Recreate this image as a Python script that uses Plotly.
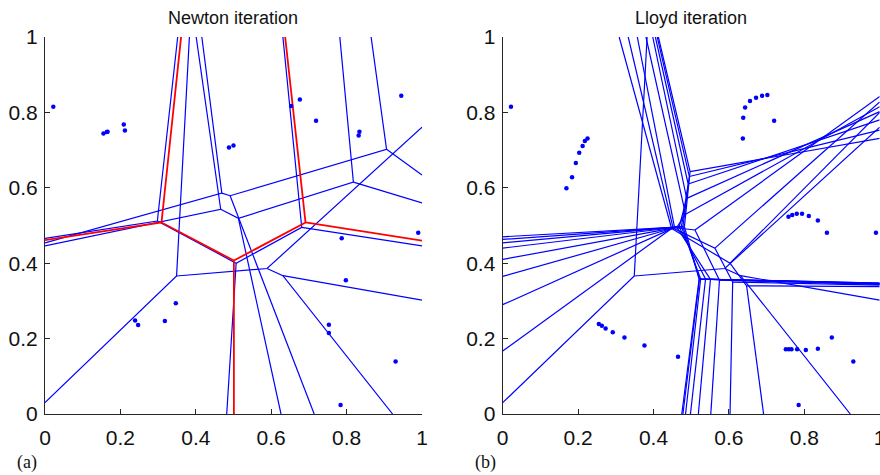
import plotly.graph_objects as go

# ---------------- data ----------------
newton_dot_x = [0.022, 0.155, 0.164, 0.166, 0.209, 0.212, 0.488, 0.500, 0.653, 0.676, 0.719, 0.834, 0.832,
                0.945, 0.990, 0.787, 0.798, 0.347, 0.239, 0.247, 0.318, 0.753, 0.753, 0.930, 0.784]
newton_dot_y = [0.815, 0.744, 0.748, 0.749, 0.768, 0.752, 0.707, 0.712, 0.817, 0.834, 0.778, 0.749, 0.739,
                0.844, 0.481, 0.466, 0.355, 0.294, 0.248, 0.236, 0.247, 0.237, 0.215, 0.139, 0.024]

lloyd_dot_x = [0.022, 0.169, 0.184, 0.194, 0.203, 0.212, 0.218, 0.225, 0.637, 0.638, 0.643, 0.656, 0.672,
               0.688, 0.702, 0.720, 0.758, 0.768, 0.780, 0.794, 0.812, 0.836, 0.860, 0.990, 0.255, 0.263,
               0.273, 0.292, 0.323, 0.376, 0.465, 0.751, 0.759, 0.766, 0.781, 0.804, 0.836, 0.873, 0.930, 0.785]
lloyd_dot_y = [0.815, 0.599, 0.628, 0.666, 0.693, 0.711, 0.724, 0.731, 0.731, 0.786, 0.813, 0.830, 0.839,
               0.844, 0.846, 0.778, 0.523, 0.528, 0.531, 0.531, 0.525, 0.513, 0.481, 0.481, 0.239, 0.234,
               0.227, 0.217, 0.203, 0.182, 0.152, 0.172, 0.172, 0.172, 0.172, 0.170, 0.173, 0.203, 0.139, 0.024]

# Initial tessellation (drawn in both panels)
initial_edges = [
    [(0.383, 1.0), (0.349, 0.366), (0.0, 0.030)],
    [(0.349, 0.366), (0.589, 0.386), (1.0, 0.761)],
    [(0.589, 0.386), (0.631, 0.367), (0.922, 0.0)],
    [(0.631, 0.367), (1.0, 0.302)],
]

# Newton iterates (blue)
newton_iter1 = [
    [(0.416, 1.0), (0.469, 0.586), (0.0, 0.454)],
    [(0.469, 0.586), (0.491, 0.579), (0.906, 0.702), (0.865, 1.0)],
    [(0.491, 0.579), (0.714, 0.0)],
    [(0.906, 0.702), (1.0, 0.634)],
]
newton_iter2 = [
    [(0.401, 1.0), (0.466, 0.543), (0.0, 0.446)],
    [(0.466, 0.543), (0.513, 0.519), (0.818, 0.615), (0.782, 1.0)],
    [(0.513, 0.519), (0.626, 0.0)],
    [(0.818, 0.615), (1.0, 0.560)],
]
newton_iter3 = [
    [(0.352, 1.0), (0.298, 0.512), (0.0, 0.466)],
    [(0.298, 0.512), (0.507, 0.400), (0.681, 0.495), (0.631, 1.0)],
    [(0.507, 0.400), (0.482, 0.0)],
    [(0.681, 0.495), (1.0, 0.446)],
]
# Newton final (red)
newton_final = [
    [(0.361, 1.0), (0.309, 0.508), (0.0, 0.461)],
    [(0.309, 0.508), (0.501, 0.407), (0.691, 0.508), (0.637, 1.0)],
    [(0.501, 0.407), (0.501, 0.0)],
    [(0.691, 0.508), (1.0, 0.460)],
]

# Lloyd iterates: one entry per iteration
lloyd_top_x = [0.309, 0.333, 0.357, 0.380, 0.398, 0.405, 0.410, 0.413]
lloyd_X = [None, None, None, (0.485, 0.530), (0.488, 0.572), (0.492, 0.610), (0.495, 0.630), (0.497, 0.643)]
lloyd_A = [(0.448, 0.492), (0.452, 0.493), (0.456, 0.494), (0.462, 0.495), (0.468, 0.496), (0.474, 0.497),
           (0.478, 0.497), (0.482, 0.497)]
lloyd_left_y = [0.167, 0.290, 0.365, 0.410, 0.440, 0.454, 0.463, 0.470]
lloyd_Q = [(0.603, 0.400), (0.563, 0.440), (0.510, 0.488), None, None, None, None, None]
lloyd_fan_y = [0.800, 0.828, 0.842, 0.815, 0.802, 0.780, 0.753, 0.731]
lloyd_C = [(0.647, 0.340), (0.610, 0.350), (0.575, 0.355), (0.551, 0.357), (0.538, 0.358), (0.525, 0.358),
           (0.522, 0.358), (0.521, 0.358)]
lloyd_bottom_x = [0.692, 0.603, 0.552, 0.519, 0.498, 0.485, 0.478, 0.475]
lloyd_right_y = [0.338, 0.342, 0.344, 0.345, 0.346, 0.346, 0.347, 0.347]


# ---------------- helpers ----------------
def flatten(polylines):
    xs, ys = [], []
    for pl in polylines:
        for (x, y) in pl:
            xs.append(x)
            ys.append(y)
        xs.append(None)
        ys.append(None)
    return xs, ys


def lloyd_polylines():
    out = []
    for k in range(len(lloyd_top_x)):
        A = lloyd_A[k]
        C = lloyd_C[k]
        X = lloyd_X[k]
        Q = lloyd_Q[k]
        top = (lloyd_top_x[k], 1.0)
        if X is not None:
            out.append([top, X, A])
            out.append([X, (1.0, lloyd_fan_y[k])])
        else:
            out.append([top, A])
        out.append([A, (0.0, lloyd_left_y[k])])
        if Q is not None:
            out.append([A, Q, C])
            out.append([Q, (1.0, lloyd_fan_y[k])])
        else:
            out.append([A, C])
        out.append([C, (lloyd_bottom_x[k], 0.0)])
        out.append([C, (1.0, lloyd_right_y[k])])
    return out


BLUE = "#0000ff"
RED = "#ff0000"
fig = go.Figure()


def add_lines(polys, color, width, xa, ya):
    xs, ys = flatten(polys)
    fig.add_trace(go.Scatter(x=xs, y=ys, mode="lines", line=dict(color=color, width=width),
                             xaxis=xa, yaxis=ya, hoverinfo="skip", showlegend=False))


# left panel
add_lines(initial_edges + newton_iter1 + newton_iter2 + newton_iter3, BLUE, 1.2, "x", "y")
add_lines(newton_final, RED, 1.8, "x", "y")
fig.add_trace(go.Scatter(x=newton_dot_x, y=newton_dot_y, mode="markers",
                         marker=dict(color=BLUE, size=4.5), xaxis="x", yaxis="y", showlegend=False))
# right panel
add_lines(initial_edges + lloyd_polylines(), BLUE, 1.2, "x2", "y2")
fig.add_trace(go.Scatter(x=lloyd_dot_x, y=lloyd_dot_y, mode="markers",
                         marker=dict(color=BLUE, size=4.5), xaxis="x2", yaxis="y2", showlegend=False))

tickvals = [0, 0.2, 0.4, 0.6, 0.8, 1]
ticktext = ["0", "0.2", "0.4", "0.6", "0.8", "1"]
axis_common = dict(range=[0, 1], tickvals=tickvals, ticktext=ticktext, showgrid=False, zeroline=False,
                   showline=True, linecolor="#262626", linewidth=1.2, ticks="inside", ticklen=5,
                   tickcolor="#262626", tickfont=dict(family="Liberation Sans, Arial", size=21, color="#111"),
                   mirror=False, fixedrange=True, automargin=False, ticklabeloverflow="allow")

W, H = 880, 475
yd = [61 / H, 438 / H]
title_font = dict(family="Liberation Sans, Arial", size=18, color="#111")
label_font = dict(family="Liberation Serif, Times New Roman", size=18, color="#111")
fig.update_layout(
    width=W, height=H, margin=dict(l=0, r=0, t=0, b=0, pad=0, autoexpand=False),
    paper_bgcolor="white", plot_bgcolor="white",
    xaxis=dict(domain=[45 / W, 422 / W], anchor="y", ticklabelstandoff=5, **axis_common),
    yaxis=dict(domain=yd, anchor="x", ticklabelstandoff=2, **axis_common),
    xaxis2=dict(domain=[502.7 / W, 879.7 / W], anchor="y2", ticklabelstandoff=5, **axis_common),
    yaxis2=dict(domain=yd, anchor="x2", ticklabelstandoff=2, **axis_common),
    annotations=[
        dict(text="Newton iteration", x=233.5 / W, y=(H - 18) / H, xref="paper", yref="paper",
             xanchor="center", yanchor="middle", showarrow=False, font=title_font),
        dict(text="Lloyd iteration", x=691 / W, y=(H - 18) / H, xref="paper", yref="paper",
             xanchor="center", yanchor="middle", showarrow=False, font=title_font),
        dict(text="(a)", x=27 / W, y=(H - 462) / H, xref="paper", yref="paper",
             xanchor="center", yanchor="middle", showarrow=False, font=label_font),
        dict(text="(b)", x=485 / W, y=(H - 462) / H, xref="paper", yref="paper",
             xanchor="center", yanchor="middle", showarrow=False, font=label_font),
    ],
)

fig.write_html("out.html", config={"displayModeBar": False},
               post_script="document.body.style.margin='0';document.body.style.overflow='hidden';")
